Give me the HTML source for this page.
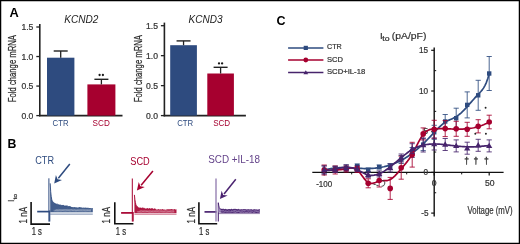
<!DOCTYPE html>
<html><head><meta charset="utf-8"><style>
html,body{margin:0;padding:0;background:#fff;}
body{width:520px;height:244px;overflow:hidden;}
svg{display:block;font-family:"Liberation Sans",sans-serif;will-change:transform;}
</style></head><body>
<svg width="520" height="244" viewBox="0 0 520 244">
<rect x="0" y="0" width="520" height="244" fill="#fff"/>
<text x="9.5" y="17.4" font-size="12.8" fill="#000" font-weight="bold" >A</text>
<line x1="39.8" y1="24.0" x2="39.8" y2="116.35" stroke="#222" stroke-width="1.6" />
<line x1="39.0" y1="115.6" x2="122.5" y2="115.6" stroke="#222" stroke-width="1.6" />
<line x1="36.3" y1="115.6" x2="39.8" y2="115.6" stroke="#222" stroke-width="1.3" />
<text x="33.4" y="118.6" font-size="8.6" fill="#333" text-anchor="end" stroke="#333" stroke-width="0.22" >0.0</text>
<line x1="36.3" y1="86.06666666666666" x2="39.8" y2="86.06666666666666" stroke="#222" stroke-width="1.3" />
<text x="33.4" y="89.06666666666666" font-size="8.6" fill="#333" text-anchor="end" stroke="#333" stroke-width="0.22" >0.5</text>
<line x1="36.3" y1="56.53333333333333" x2="39.8" y2="56.53333333333333" stroke="#222" stroke-width="1.3" />
<text x="33.4" y="59.53333333333333" font-size="8.6" fill="#333" text-anchor="end" stroke="#333" stroke-width="0.22" >1.0</text>
<line x1="36.3" y1="27.0" x2="39.8" y2="27.0" stroke="#222" stroke-width="1.3" />
<text x="33.4" y="30.0" font-size="8.6" fill="#333" text-anchor="end" stroke="#333" stroke-width="0.22" >1.5</text>
<text x="64.2" y="22.9" font-size="10.2" fill="#222" textLength="34.2" lengthAdjust="spacingAndGlyphs" font-style="italic" >KCND2</text>
<rect x="47.0" y="57.7" width="27.400000000000006" height="57.89999999999999" fill="#2e4b7f"/>
<line x1="60.7" y1="51.0" x2="60.7" y2="57.7" stroke="#222" stroke-width="1.3" />
<line x1="53.7" y1="51.0" x2="67.7" y2="51.0" stroke="#222" stroke-width="1.4" />
<text x="52.6" y="126.3" font-size="8.9" fill="#2e4b7f" textLength="16.0" lengthAdjust="spacingAndGlyphs" >CTR</text>
<rect x="87.4" y="84.4" width="28.0" height="31.19999999999999" fill="#a6002f"/>
<line x1="101.4" y1="79.3" x2="101.4" y2="84.4" stroke="#222" stroke-width="1.3" />
<line x1="94.4" y1="79.3" x2="108.4" y2="79.3" stroke="#222" stroke-width="1.4" />
<text x="92.6" y="126.3" font-size="8.9" fill="#a6002f" textLength="17.2" lengthAdjust="spacingAndGlyphs" >SCD</text>
<text transform="translate(16.2,102.2) rotate(-90)" font-size="10.0" fill="#2a2a2a" stroke="#2a2a2a" stroke-width="0.22" textLength="67.2" lengthAdjust="spacingAndGlyphs">Fold change mRNA</text>
<line x1="164.4" y1="22.6" x2="164.4" y2="116.35" stroke="#222" stroke-width="1.6" />
<line x1="163.6" y1="115.6" x2="245.9" y2="115.6" stroke="#222" stroke-width="1.6" />
<line x1="160.9" y1="115.6" x2="164.4" y2="115.6" stroke="#222" stroke-width="1.3" />
<text x="158.0" y="118.6" font-size="8.6" fill="#333" text-anchor="end" stroke="#333" stroke-width="0.22" >0.0</text>
<line x1="160.9" y1="85.63333333333333" x2="164.4" y2="85.63333333333333" stroke="#222" stroke-width="1.3" />
<text x="158.0" y="88.63333333333333" font-size="8.6" fill="#333" text-anchor="end" stroke="#333" stroke-width="0.22" >0.5</text>
<line x1="160.9" y1="55.666666666666664" x2="164.4" y2="55.666666666666664" stroke="#222" stroke-width="1.3" />
<text x="158.0" y="58.666666666666664" font-size="8.6" fill="#333" text-anchor="end" stroke="#333" stroke-width="0.22" >1.0</text>
<line x1="160.9" y1="25.700000000000003" x2="164.4" y2="25.700000000000003" stroke="#222" stroke-width="1.3" />
<text x="158.0" y="28.700000000000003" font-size="8.6" fill="#333" text-anchor="end" stroke="#333" stroke-width="0.22" >1.5</text>
<text x="188.5" y="22.9" font-size="10.2" fill="#222" textLength="34.0" lengthAdjust="spacingAndGlyphs" font-style="italic" >KCND3</text>
<rect x="170.2" y="45.2" width="26.700000000000017" height="70.39999999999999" fill="#2e4b7f"/>
<line x1="183.55" y1="40.9" x2="183.55" y2="45.2" stroke="#222" stroke-width="1.3" />
<line x1="176.55" y1="40.9" x2="190.55" y2="40.9" stroke="#222" stroke-width="1.4" />
<text x="177.2" y="126.3" font-size="8.9" fill="#2e4b7f" textLength="16.0" lengthAdjust="spacingAndGlyphs" >CTR</text>
<rect x="207.3" y="73.5" width="26.599999999999994" height="42.099999999999994" fill="#a6002f"/>
<line x1="220.60000000000002" y1="67.3" x2="220.60000000000002" y2="73.5" stroke="#222" stroke-width="1.3" />
<line x1="213.60000000000002" y1="67.3" x2="227.60000000000002" y2="67.3" stroke="#222" stroke-width="1.4" />
<text x="213.2" y="126.3" font-size="8.9" fill="#a6002f" textLength="17.0" lengthAdjust="spacingAndGlyphs" >SCD</text>
<text transform="translate(142.0,102.2) rotate(-90)" font-size="10.0" fill="#2a2a2a" stroke="#2a2a2a" stroke-width="0.22" textLength="67.2" lengthAdjust="spacingAndGlyphs">Fold change mRNA</text>
<circle cx="99.6" cy="75.0" r="1.15" fill="#1a1a1a"/>
<circle cx="102.9" cy="75.0" r="1.15" fill="#1a1a1a"/>
<circle cx="219.0" cy="63.4" r="1.15" fill="#1a1a1a"/>
<circle cx="222.1" cy="63.4" r="1.15" fill="#1a1a1a"/>
<text x="7.6" y="147.9" font-size="12.3" fill="#000" font-weight="bold" >B</text>
<g transform="translate(14.3,202.0) rotate(-90)" fill="#333" stroke="#333" stroke-width="0.2"><text x="0" y="0" font-size="8.4">I</text><text x="2.4" y="2.9" font-size="6.0" textLength="5.8" lengthAdjust="spacingAndGlyphs">to</text></g>
<text x="35.2" y="163.8" font-size="10.0" fill="#2e4b7f" textLength="18.8" lengthAdjust="spacingAndGlyphs" >CTR</text>
<line x1="69.8" y1="164.0" x2="58.33590712516797" y2="178.25662831870136" stroke="#2e4b7f" stroke-width="1.5" />
<polygon points="54.2,183.4 55.92,175.03 57.58,179.19 62.00,179.92" fill="#2e4b7f"/>
<line x1="37.2" y1="211.6" x2="49.4" y2="211.6" stroke="#2e4b7f" stroke-width="1.7" />
<line x1="48.9" y1="178.3" x2="48.9" y2="221.6" stroke="#2e4b7f" stroke-width="1.0" />
<line x1="49.699999999999996" y1="210.6" x2="49.699999999999996" y2="221.6" stroke="#2e4b7f" stroke-width="1.2" />
<path d="M50.20,183.32 L50.70,191.78 L51.20,196.39 L51.70,199.30 L52.20,200.94 L52.70,201.54 L53.20,202.13 L53.70,203.14 L54.20,203.04 L54.70,203.27 L55.20,204.00 L55.70,203.81 L56.20,204.23 L56.70,204.12 L57.20,204.38 L57.70,204.17 L58.20,204.64 L59.20,205.04 L60.20,205.03 L61.20,205.39 L62.20,205.54 L63.20,205.30 L64.20,205.96 L65.20,206.01 L66.20,205.96 L67.20,205.91 L68.20,206.63 L69.20,206.48 L70.20,206.77 L71.20,206.99 L72.20,206.97 L73.20,207.21 L74.20,206.93 L75.20,207.30 L76.20,207.13 L77.20,207.55 L78.20,207.58 L79.20,207.09 L80.20,207.18 L81.20,207.29 L82.20,207.87 L83.20,207.55 L84.20,207.73 L85.20,207.54 L86.20,207.72 L87.20,207.68 L88.20,207.69 L89.20,207.88 L90.20,207.91 L91.20,208.17 L92.20,208.04 L92.80,207.93 L92.80,212.20 L50.20,212.20Z" fill="#2e4b7f" fill-opacity="0.9"/>
<path d="M50.20,183.32 L50.70,191.78 L51.20,196.39 L51.70,199.30 L52.20,200.94 L52.70,201.54 L53.20,202.13 L53.70,203.14 L54.20,203.04 L54.70,203.27 L55.20,204.00 L55.70,203.81 L56.20,204.23 L56.70,204.12 L57.20,204.38 L57.70,204.17 L58.20,204.64 L59.20,205.04 L60.20,205.03 L61.20,205.39 L62.20,205.54 L63.20,205.30 L64.20,205.96 L65.20,206.01 L66.20,205.96 L67.20,205.91 L68.20,206.63 L69.20,206.48 L70.20,206.77 L71.20,206.99" fill="none" stroke="#2e4b7f" stroke-width="0.9"/>
<path d="M55.6,209.76 L57.1,209.60 L58.6,209.35 L60.1,209.70 L61.6,209.75 L63.1,209.72 L64.6,209.55 L66.1,209.62 L67.6,209.37 L69.1,209.68 L70.6,209.55 L72.1,209.41 L73.6,209.30 L75.1,209.69 L76.6,209.76 L78.1,209.31 L79.6,209.67 L81.1,209.47 L82.6,209.34 L84.1,209.41 L85.6,209.65 L87.1,209.70 L88.6,209.29 L90.1,209.57 L91.6,209.29" fill="none" stroke="#fff" stroke-opacity="0.42" stroke-width="0.5"/>
<path d="M53.5,210.25 L55.0,210.30 L56.5,210.06 L58.0,210.31 L59.5,209.96 L61.0,209.85 L62.5,210.11 L64.0,209.83 L65.5,209.91 L67.0,210.01 L68.5,210.12 L70.0,209.89 L71.5,209.83 L73.0,210.24 L74.5,209.97 L76.0,210.29 L77.5,210.26 L79.0,210.00 L80.5,210.04 L82.0,210.07 L83.5,210.13 L85.0,210.11 L86.5,210.09 L88.0,210.12 L89.5,210.28 L91.0,210.06" fill="none" stroke="#fff" stroke-opacity="0.42" stroke-width="0.5"/>
<path d="M55.1,210.42 L56.6,210.46 L58.1,210.79 L59.6,210.57 L61.1,210.58 L62.6,210.31 L64.1,210.51 L65.6,210.60 L67.1,210.32 L68.6,210.61 L70.1,210.62 L71.6,210.34 L73.1,210.62 L74.6,210.54 L76.1,210.65 L77.6,210.48 L79.1,210.66 L80.6,210.68 L82.1,210.32 L83.6,210.34 L85.1,210.64 L86.6,210.79 L88.1,210.43 L89.6,210.53 L91.1,210.60" fill="none" stroke="#fff" stroke-opacity="0.42" stroke-width="0.5"/>
<path d="M53.7,211.06 L55.2,211.09 L56.7,211.21 L58.2,211.06 L59.7,211.10 L61.2,211.29 L62.7,210.92 L64.2,211.19 L65.7,211.28 L67.2,211.06 L68.7,211.02 L70.2,211.31 L71.7,211.03 L73.2,211.00 L74.7,211.13 L76.2,211.26 L77.7,210.96 L79.2,211.07 L80.7,211.07 L82.2,211.32 L83.7,211.13 L85.2,211.34 L86.7,210.99 L88.2,211.08 L89.7,211.23 L91.2,211.35" fill="none" stroke="#fff" stroke-opacity="0.42" stroke-width="0.5"/>
<line x1="50.2" y1="214.30" x2="92.8" y2="214.30" stroke="#2e4b7f" stroke-opacity="0.55" stroke-width="0.9"/>
<line x1="50.2" y1="213.25" x2="92.8" y2="213.25" stroke="#2e4b7f" stroke-opacity="0.25" stroke-width="0.9"/>
<path d="M31.1,201.9 L31.1,224.1 L50.0,224.1" fill="none" stroke="#111" stroke-width="1.6"/>
<text transform="translate(26.6,223.5) rotate(-90)" font-size="10.6" fill="#2a2a2a" stroke="#2a2a2a" stroke-width="0.22" textLength="16.5" lengthAdjust="spacingAndGlyphs">1 nA</text>
<text x="31.7" y="235.2" font-size="10.0" fill="#2a2a2a" textLength="10.2" lengthAdjust="spacingAndGlyphs" stroke="#2a2a2a" stroke-width="0.22" >1 s</text>
<text x="130.3" y="164.8" font-size="10.0" fill="#a6002f" textLength="19.5" lengthAdjust="spacingAndGlyphs" >SCD</text>
<line x1="152.9" y1="171.1" x2="141.11225575407823" y2="185.31896649664313" stroke="#a6002f" stroke-width="1.5" />
<polygon points="136.9,190.4 138.75,182.06 140.35,186.24 144.75,187.04" fill="#a6002f"/>
<line x1="121.1" y1="212.9" x2="132.8" y2="212.9" stroke="#a6002f" stroke-width="1.7" />
<line x1="132.3" y1="178.5" x2="132.3" y2="221.5" stroke="#a6002f" stroke-width="1.0" />
<line x1="133.10000000000002" y1="211.9" x2="133.10000000000002" y2="221.5" stroke="#a6002f" stroke-width="1.2" />
<path d="M134.40,194.89 L134.90,199.62 L135.40,202.65 L135.90,204.67 L136.40,205.78 L136.90,206.72 L137.40,206.64 L137.90,207.31 L138.40,207.90 L138.90,207.88 L139.40,208.20 L139.90,207.75 L140.40,208.09 L140.90,208.01 L141.40,208.28 L141.90,208.36 L142.40,208.02 L143.40,208.26 L144.40,208.39 L145.40,208.91 L146.40,208.88 L147.40,208.52 L148.40,209.02 L149.40,208.62 L150.40,209.00 L151.40,208.71 L152.40,208.66 L153.40,209.31 L154.40,208.88 L155.40,208.92 L156.40,209.49 L157.40,209.44 L158.40,209.05 L159.40,209.55 L160.40,209.28 L161.40,209.39 L162.40,209.08 L163.40,209.61 L164.40,209.45 L165.40,209.66 L166.40,209.62 L167.40,209.22 L168.40,209.27 L169.40,209.15 L170.40,209.14 L171.40,209.09 L172.40,209.27 L173.40,209.49 L174.40,209.07 L175.40,209.55 L176.40,209.32 L176.50,209.43 L176.50,213.00 L134.40,213.00Z" fill="#a6002f" fill-opacity="0.9"/>
<path d="M134.40,194.89 L134.90,199.62 L135.40,202.65 L135.90,204.67 L136.40,205.78 L136.90,206.72 L137.40,206.64 L137.90,207.31 L138.40,207.90 L138.90,207.88 L139.40,208.20 L139.90,207.75 L140.40,208.09 L140.90,208.01 L141.40,208.28 L141.90,208.36 L142.40,208.02 L143.40,208.26 L144.40,208.39 L145.40,208.91 L146.40,208.88 L147.40,208.52 L148.40,209.02 L149.40,208.62 L150.40,209.00 L151.40,208.71 L152.40,208.66 L153.40,209.31 L154.40,208.88 L155.40,208.92" fill="none" stroke="#a6002f" stroke-width="0.9"/>
<path d="M139.7,210.56 L141.2,210.47 L142.7,210.56 L144.2,210.67 L145.7,210.34 L147.2,210.80 L148.7,210.33 L150.2,210.69 L151.7,210.74 L153.2,210.32 L154.7,210.71 L156.2,210.50 L157.7,210.61 L159.2,210.32 L160.7,210.34 L162.2,210.41 L163.7,210.79 L165.2,210.41 L166.7,210.69 L168.2,210.78 L169.7,210.79 L171.2,210.49 L172.7,210.49 L174.2,210.58" fill="none" stroke="#fff" stroke-opacity="0.42" stroke-width="0.5"/>
<path d="M136.8,211.46 L138.3,211.49 L139.8,211.52 L141.3,211.11 L142.8,211.56 L144.3,211.13 L145.8,211.26 L147.3,211.39 L148.8,211.55 L150.3,211.26 L151.8,211.55 L153.3,211.36 L154.8,211.24 L156.3,211.25 L157.8,211.18 L159.3,211.13 L160.8,211.16 L162.3,211.43 L163.8,211.59 L165.3,211.17 L166.8,211.11 L168.3,211.58 L169.8,211.35 L171.3,211.29 L172.8,211.21 L174.3,211.38" fill="none" stroke="#fff" stroke-opacity="0.42" stroke-width="0.5"/>
<path d="M138.2,211.82 L139.7,211.64 L141.2,212.07 L142.7,211.62 L144.2,211.86 L145.7,212.03 L147.2,211.67 L148.7,211.97 L150.2,212.08 L151.7,211.92 L153.2,212.00 L154.7,211.66 L156.2,211.83 L157.7,211.68 L159.2,212.03 L160.7,211.76 L162.2,211.84 L163.7,212.11 L165.2,212.03 L166.7,212.10 L168.2,211.84 L169.7,211.85 L171.2,211.97 L172.7,211.85 L174.2,211.75" fill="none" stroke="#fff" stroke-opacity="0.42" stroke-width="0.5"/>
<path d="M137.0,212.04 L138.5,212.34 L140.0,212.33 L141.5,212.16 L143.0,212.10 L144.5,212.02 L146.0,211.89 L147.5,211.98 L149.0,212.24 L150.5,212.28 L152.0,212.03 L153.5,212.24 L155.0,212.23 L156.5,212.19 L158.0,212.18 L159.5,212.23 L161.0,212.03 L162.5,212.20 L164.0,211.99 L165.5,212.09 L167.0,212.23 L168.5,212.19 L170.0,211.99 L171.5,212.32 L173.0,212.17 L174.5,212.14" fill="none" stroke="#fff" stroke-opacity="0.42" stroke-width="0.5"/>
<line x1="134.4" y1="214.30" x2="176.5" y2="214.30" stroke="#a6002f" stroke-opacity="0.55" stroke-width="0.9"/>
<line x1="134.4" y1="213.65" x2="176.5" y2="213.65" stroke="#a6002f" stroke-opacity="0.25" stroke-width="0.9"/>
<path d="M114.8,202.3 L114.8,223.8 L133.4,223.8" fill="none" stroke="#111" stroke-width="1.6"/>
<text transform="translate(109.8,223.5) rotate(-90)" font-size="10.6" fill="#2a2a2a" stroke="#2a2a2a" stroke-width="0.22" textLength="16.5" lengthAdjust="spacingAndGlyphs">1 nA</text>
<text x="115.8" y="235.2" font-size="10.0" fill="#2a2a2a" textLength="10.2" lengthAdjust="spacingAndGlyphs" stroke="#2a2a2a" stroke-width="0.22" >1 s</text>
<text x="208.2" y="162.9" font-size="10.0" fill="#64438a" textLength="51.8" lengthAdjust="spacingAndGlyphs" >SCD +IL-18</text>
<line x1="235.8" y1="179.3" x2="224.0324890147565" y2="193.9538816042655" stroke="#4a2370" stroke-width="1.5" />
<polygon points="219.9,199.1 221.62,190.73 223.28,194.89 227.70,195.62" fill="#4a2370"/>
<line x1="204.5" y1="211.9" x2="216.5" y2="211.9" stroke="#4a2370" stroke-width="1.7" />
<line x1="216.0" y1="178.5" x2="216.0" y2="221.5" stroke="#8f78ae" stroke-width="1.3" />
<line x1="218.3" y1="202.79999999999998" x2="218.3" y2="221.5" stroke="#4a2370" stroke-width="1.1" />
<path d="M218.30,202.68 L218.80,205.72 L219.30,207.76 L219.80,208.26 L220.30,209.07 L220.80,209.21 L221.30,209.13 L221.80,209.52 L222.30,209.23 L222.80,209.53 L223.30,209.29 L223.80,209.31 L224.30,209.54 L224.80,209.83 L225.30,209.34 L225.80,209.41 L226.30,209.69 L227.30,209.91 L228.30,209.65 L229.30,209.53 L230.30,209.93 L231.30,209.28 L232.30,209.85 L233.30,209.45 L234.30,209.35 L235.30,209.33 L236.30,209.47 L237.30,209.82 L238.30,209.38 L239.30,209.66 L240.30,209.70 L241.30,209.51 L242.30,209.63 L243.30,209.29 L244.30,209.29 L245.30,209.39 L246.30,209.73 L247.30,209.55 L248.30,209.47 L249.30,209.66 L250.30,209.57 L251.30,209.46 L252.30,209.81 L253.30,209.74 L254.30,209.42 L255.30,209.65 L256.30,209.62 L257.30,209.86 L258.30,209.76 L259.30,209.45 L259.90,209.60 L259.90,212.60 L218.30,212.60Z" fill="#9a84b6" fill-opacity="1"/>
<path d="M220.80,209.61 L221.30,209.53 L221.80,209.92 L222.30,209.63 L222.80,209.93 L223.30,209.69 L223.80,209.71 L224.30,209.94 L224.80,210.23 L225.30,209.74 L225.80,209.81 L226.30,210.09 L227.30,210.31 L228.30,210.05 L229.30,209.93 L230.30,210.33 L231.30,209.68 L232.30,210.25 L233.30,209.85 L234.30,209.75 L235.30,209.73 L236.30,209.87 L237.30,210.22 L238.30,209.78 L239.30,210.06 L240.30,210.10 L241.30,209.91 L242.30,210.03 L243.30,209.69 L244.30,209.69 L245.30,209.79 L246.30,210.13 L247.30,209.95 L248.30,209.87 L249.30,210.06 L250.30,209.97 L251.30,209.86 L252.30,210.21 L253.30,210.14 L254.30,209.82 L255.30,210.05 L256.30,210.02 L257.30,210.26 L258.30,210.16 L259.30,209.85 L259.90,210.00" fill="none" stroke="#4a2370" stroke-width="1.1"/>
<path d="M220.80,212.39 L221.30,211.87 L221.80,212.05 L222.30,212.25 L222.80,211.89 L223.30,212.09 L223.80,211.82 L224.30,212.20 L224.80,212.26 L225.30,212.14 L225.80,212.33 L226.30,211.99 L227.30,212.22 L228.30,212.16 L229.30,212.15 L230.30,212.07 L231.30,212.30 L232.30,212.37 L233.30,212.08 L234.30,212.20 L235.30,211.84 L236.30,212.22 L237.30,212.19 L238.30,212.40 L239.30,212.29 L240.30,211.97 L241.30,212.03 L242.30,212.20 L243.30,211.81 L244.30,212.08 L245.30,211.90 L246.30,211.87 L247.30,211.84 L248.30,212.26 L249.30,211.88 L250.30,211.95 L251.30,212.03 L252.30,212.32 L253.30,211.85 L254.30,212.07 L255.30,212.13 L256.30,212.33 L257.30,212.29 L258.30,212.32 L259.30,211.97 L259.90,212.05" fill="none" stroke="#4a2370" stroke-width="1.1"/>
<path d="M218.30,202.68 L218.80,205.72 L219.30,207.76 L219.80,208.26 L220.30,209.07 L220.80,209.21 L221.30,209.13 L221.80,209.52 L222.30,209.23 L222.80,209.53 L223.30,209.29 L223.80,209.31 L224.30,209.54 L224.80,209.83 L225.30,209.34 L225.80,209.41 L226.30,209.69 L227.30,209.91 L228.30,209.65 L229.30,209.53 L230.30,209.93 L231.30,209.28 L232.30,209.85 L233.30,209.45 L234.30,209.35 L235.30,209.33 L236.30,209.47 L237.30,209.82 L238.30,209.38 L239.30,209.66" fill="none" stroke="#4a2370" stroke-width="0.9"/>
<line x1="218.3" y1="213.60" x2="259.9" y2="213.60" stroke="#4a2370" stroke-opacity="0.55" stroke-width="0.9"/>
<line x1="218.3" y1="213.10" x2="259.9" y2="213.10" stroke="#4a2370" stroke-opacity="0.25" stroke-width="0.9"/>
<path d="M198.9,202.3 L198.9,223.8 L217.2,223.8" fill="none" stroke="#111" stroke-width="1.6"/>
<text transform="translate(194.6,223.5) rotate(-90)" font-size="10.6" fill="#2a2a2a" stroke="#2a2a2a" stroke-width="0.22" textLength="16.5" lengthAdjust="spacingAndGlyphs">1 nA</text>
<text x="199.1" y="235.2" font-size="10.0" fill="#2a2a2a" textLength="10.2" lengthAdjust="spacingAndGlyphs" stroke="#2a2a2a" stroke-width="0.22" >1 s</text>
<text x="276.4" y="24.9" font-size="12.5" fill="#000" font-weight="bold" >C</text>
<line x1="288.1" y1="47.9" x2="323.4" y2="47.9" stroke="#2e4b7f" stroke-width="1.5" />
<rect x="303.7" y="45.8" width="4.2" height="4.2" fill="#2e4b7f"/>
<text x="327.0" y="49.4" font-size="7.9" fill="#333" textLength="14.8" lengthAdjust="spacingAndGlyphs" stroke="#333" stroke-width="0.22" >CTR</text>
<line x1="288.1" y1="60.0" x2="323.4" y2="60.0" stroke="#a6002f" stroke-width="1.5" />
<circle cx="305.8" cy="60.0" r="2.4" fill="#a6002f"/>
<text x="327.0" y="61.5" font-size="7.9" fill="#333" textLength="16.0" lengthAdjust="spacingAndGlyphs" stroke="#333" stroke-width="0.22" >SCD</text>
<line x1="288.1" y1="72.6" x2="323.4" y2="72.6" stroke="#47246c" stroke-width="1.5" />
<polygon points="305.8,70.3 308.2,74.19999999999999 303.4,74.19999999999999" fill="#47246c"/>
<text x="327.0" y="74.1" font-size="7.9" fill="#333" textLength="38.2" lengthAdjust="spacingAndGlyphs" stroke="#333" stroke-width="0.22" >SCD+IL-18</text>
<text x="380.0" y="39.3" font-size="9.8" fill="#333" stroke="#333" stroke-width="0.22" >I</text>
<text x="382.3" y="41.2" font-size="6.6" fill="#333" textLength="7.2" lengthAdjust="spacingAndGlyphs" stroke="#333" stroke-width="0.22" >to</text>
<text x="391.8" y="39.3" font-size="9.8" fill="#333" textLength="34.6" lengthAdjust="spacingAndGlyphs" stroke="#333" stroke-width="0.22" >(pA/pF)</text>
<line x1="434.2" y1="47.4" x2="434.2" y2="216.5" stroke="#111" stroke-width="1.4" />
<line x1="312.3" y1="172.4" x2="503.6" y2="172.4" stroke="#111" stroke-width="1.4" />
<line x1="431.2" y1="50.3" x2="434.2" y2="50.3" stroke="#111" stroke-width="1.2" />
<line x1="431.2" y1="91.0" x2="434.2" y2="91.0" stroke="#111" stroke-width="1.2" />
<line x1="431.2" y1="131.7" x2="434.2" y2="131.7" stroke="#111" stroke-width="1.2" />
<line x1="431.2" y1="172.4" x2="434.2" y2="172.4" stroke="#111" stroke-width="1.2" />
<line x1="431.2" y1="213.10000000000002" x2="434.2" y2="213.10000000000002" stroke="#111" stroke-width="1.2" />
<line x1="434.2" y1="70.65" x2="436.2" y2="70.65" stroke="#111" stroke-width="1.0" />
<line x1="434.2" y1="111.35" x2="436.2" y2="111.35" stroke="#111" stroke-width="1.0" />
<line x1="434.2" y1="152.05" x2="436.2" y2="152.05" stroke="#111" stroke-width="1.0" />
<line x1="434.2" y1="192.75" x2="436.2" y2="192.75" stroke="#111" stroke-width="1.0" />
<line x1="324.2" y1="172.4" x2="324.2" y2="175.4" stroke="#111" stroke-width="1.2" />
<line x1="379.2" y1="172.4" x2="379.2" y2="175.4" stroke="#111" stroke-width="1.2" />
<line x1="434.2" y1="172.4" x2="434.2" y2="175.4" stroke="#111" stroke-width="1.2" />
<line x1="489.2" y1="172.4" x2="489.2" y2="175.4" stroke="#111" stroke-width="1.2" />
<line x1="351.7" y1="172.4" x2="351.7" y2="174.4" stroke="#111" stroke-width="1.0" />
<line x1="406.7" y1="172.4" x2="406.7" y2="174.4" stroke="#111" stroke-width="1.0" />
<line x1="461.7" y1="172.4" x2="461.7" y2="174.4" stroke="#111" stroke-width="1.0" />
<text x="428.0" y="52.9" font-size="8.2" fill="#333" text-anchor="end" stroke="#333" stroke-width="0.22" >15</text>
<text x="428.0" y="93.6" font-size="8.2" fill="#333" text-anchor="end" stroke="#333" stroke-width="0.22" >10</text>
<text x="428.0" y="134.3" font-size="8.2" fill="#333" text-anchor="end" stroke="#333" stroke-width="0.22" >5</text>
<text x="428.0" y="175.0" font-size="8.2" fill="#333" text-anchor="end" stroke="#333" stroke-width="0.22" >0</text>
<text x="428.6" y="216.2" font-size="8.2" fill="#333" text-anchor="end" stroke="#333" stroke-width="0.22" >-5</text>
<text x="324.2" y="186.5" font-size="8.8" fill="#333" text-anchor="middle" textLength="16.0" lengthAdjust="spacingAndGlyphs" stroke="#333" stroke-width="0.22" >-100</text>
<text x="434.2" y="185.8" font-size="8.6" fill="#333" text-anchor="middle" stroke="#333" stroke-width="0.22" >0</text>
<text x="489.8" y="186.2" font-size="8.6" fill="#333" text-anchor="middle" stroke="#333" stroke-width="0.22" >50</text>
<text x="467.6" y="214.4" font-size="10.4" fill="#333" textLength="45.0" lengthAdjust="spacingAndGlyphs" stroke="#333" stroke-width="0.22" >Voltage (mV)</text>
<path d="M324.20,165.80 L324.20,173.80 M321.60,165.80 L326.80,165.80 M321.60,173.80 L326.80,173.80" stroke="#2e4b7f" stroke-width="1.0" fill="none" stroke-opacity="0.85"/>
<path d="M335.20,166.00 L335.20,172.00 M332.60,166.00 L337.80,166.00 M332.60,172.00 L337.80,172.00" stroke="#2e4b7f" stroke-width="1.0" fill="none" stroke-opacity="0.85"/>
<path d="M346.20,165.00 L346.20,171.00 M343.60,165.00 L348.80,165.00 M343.60,171.00 L348.80,171.00" stroke="#2e4b7f" stroke-width="1.0" fill="none" stroke-opacity="0.85"/>
<path d="M357.20,164.00 L357.20,168.00 M354.60,164.00 L359.80,164.00 M354.60,168.00 L359.80,168.00" stroke="#2e4b7f" stroke-width="1.0" fill="none" stroke-opacity="0.85"/>
<path d="M368.20,168.00 L368.20,172.00 M365.60,168.00 L370.80,168.00 M365.60,172.00 L370.80,172.00" stroke="#2e4b7f" stroke-width="1.0" fill="none" stroke-opacity="0.85"/>
<path d="M379.20,165.00 L379.20,169.00 M376.60,165.00 L381.80,165.00 M376.60,169.00 L381.80,169.00" stroke="#2e4b7f" stroke-width="1.0" fill="none" stroke-opacity="0.85"/>
<path d="M390.20,163.50 L390.20,169.50 M387.60,163.50 L392.80,163.50 M387.60,169.50 L392.80,169.50" stroke="#2e4b7f" stroke-width="1.0" fill="none" stroke-opacity="0.85"/>
<path d="M401.20,155.50 L401.20,163.50 M398.60,155.50 L403.80,155.50 M398.60,163.50 L403.80,163.50" stroke="#2e4b7f" stroke-width="1.0" fill="none" stroke-opacity="0.85"/>
<path d="M412.20,147.50 L412.20,157.50 M409.60,147.50 L414.80,147.50 M409.60,157.50 L414.80,157.50" stroke="#2e4b7f" stroke-width="1.0" fill="none" stroke-opacity="0.85"/>
<path d="M423.20,138.60 L423.20,150.60 M420.60,138.60 L425.80,138.60 M420.60,150.60 L425.80,150.60" stroke="#2e4b7f" stroke-width="1.0" fill="none" stroke-opacity="0.85"/>
<path d="M434.20,125.30 L434.20,139.30 M431.60,125.30 L436.80,125.30 M431.60,139.30 L436.80,139.30" stroke="#2e4b7f" stroke-width="1.0" fill="none" stroke-opacity="0.85"/>
<path d="M445.20,114.50 L445.20,128.50 M442.60,114.50 L447.80,114.50 M442.60,128.50 L447.80,128.50" stroke="#2e4b7f" stroke-width="1.0" fill="none" stroke-opacity="0.85"/>
<path d="M456.20,108.20 L456.20,128.20 M453.60,108.20 L458.80,108.20 M453.60,128.20 L458.80,128.20" stroke="#2e4b7f" stroke-width="1.0" fill="none" stroke-opacity="0.85"/>
<path d="M467.20,91.90 L467.20,117.90 M464.60,91.90 L469.80,91.90 M464.60,117.90 L469.80,117.90" stroke="#2e4b7f" stroke-width="1.0" fill="none" stroke-opacity="0.85"/>
<path d="M478.20,80.30 L478.20,110.30 M475.60,80.30 L480.80,80.30 M475.60,110.30 L480.80,110.30" stroke="#2e4b7f" stroke-width="1.0" fill="none" stroke-opacity="0.85"/>
<path d="M489.20,56.50 L489.20,90.50 M486.60,56.50 L491.80,56.50 M486.60,90.50 L491.80,90.50" stroke="#2e4b7f" stroke-width="1.0" fill="none" stroke-opacity="0.85"/>
<path d="M324.20,170.23 L325.59,169.80 L326.97,169.42 L328.36,169.09 L329.75,168.79 L331.13,168.54 L332.52,168.32 L333.91,168.14 L335.29,167.99 L336.68,167.87 L338.07,167.78 L339.45,167.71 L340.84,167.67 L342.23,167.65 L343.61,167.65 L345.00,167.67 L346.38,167.70 L347.77,167.75 L349.16,167.80 L350.54,167.87 L351.93,167.94 L353.32,168.02 L354.70,168.10 L356.09,168.18 L357.48,168.25 L358.86,168.33 L360.25,168.39 L361.64,168.45 L363.02,168.50 L364.41,168.53 L365.80,168.55 L367.18,168.55 L368.57,168.53 L369.96,168.49 L371.34,168.42 L372.73,168.34 L374.12,168.23 L375.50,168.10 L376.89,167.94 L378.28,167.75 L379.66,167.54 L381.05,167.31 L382.44,167.04 L383.82,166.75 L385.21,166.42 L386.59,166.07 L387.98,165.69 L389.37,165.27 L390.75,164.82 L392.14,164.34 L393.53,163.83 L394.91,163.28 L396.30,162.70 L397.69,162.08 L399.07,161.42 L400.46,160.73 L401.85,160.00 L403.23,159.23 L404.62,158.42 L406.01,157.57 L407.39,156.68 L408.78,155.75 L410.17,154.78 L411.55,153.76 L412.94,152.70 L414.33,151.60 L415.71,150.46 L417.10,149.28 L418.49,148.06 L419.87,146.81 L421.26,145.53 L422.65,144.22 L424.03,142.88 L425.42,141.52 L426.81,140.13 L428.19,138.73 L429.58,137.31 L430.96,135.87 L432.35,134.42 L433.74,132.96 L435.12,131.49 L436.51,130.02 L437.90,128.58 L439.28,127.19 L440.67,125.86 L442.06,124.61 L443.44,123.47 L444.83,122.45 L446.22,121.57 L447.60,120.81 L448.99,120.14 L450.38,119.52 L451.76,118.91 L453.15,118.29 L454.54,117.60 L455.92,116.82 L457.31,115.92 L458.70,114.90 L460.08,113.76 L461.47,112.52 L462.86,111.19 L464.24,109.79 L465.63,108.32 L467.02,106.81 L468.40,105.26 L469.79,103.68 L471.17,102.09 L472.56,100.51 L473.95,98.94 L475.33,97.39 L476.72,95.88 L478.11,94.43 L479.49,93.01 L480.88,91.54 L482.27,89.87 L483.65,87.86 L485.04,85.37 L486.43,82.28 L487.81,78.44 L489.20,73.72" stroke="#2e4b7f" stroke-width="1.7" fill="none" stroke-linejoin="round"/>
<rect x="322.0" y="167.6" width="4.4" height="4.4" fill="#2e4b7f"/>
<rect x="333.0" y="166.8" width="4.4" height="4.4" fill="#2e4b7f"/>
<rect x="344.0" y="165.8" width="4.4" height="4.4" fill="#2e4b7f"/>
<rect x="355.0" y="163.8" width="4.4" height="4.4" fill="#2e4b7f"/>
<rect x="366.0" y="167.8" width="4.4" height="4.4" fill="#2e4b7f"/>
<rect x="377.0" y="164.8" width="4.4" height="4.4" fill="#2e4b7f"/>
<rect x="388.0" y="164.3" width="4.4" height="4.4" fill="#2e4b7f"/>
<rect x="399.0" y="157.3" width="4.4" height="4.4" fill="#2e4b7f"/>
<rect x="410.0" y="150.3" width="4.4" height="4.4" fill="#2e4b7f"/>
<rect x="421.0" y="142.4" width="4.4" height="4.4" fill="#2e4b7f"/>
<rect x="432.0" y="130.1" width="4.4" height="4.4" fill="#2e4b7f"/>
<rect x="443.0" y="119.3" width="4.4" height="4.4" fill="#2e4b7f"/>
<rect x="454.0" y="116.0" width="4.4" height="4.4" fill="#2e4b7f"/>
<rect x="465.0" y="102.7" width="4.4" height="4.4" fill="#2e4b7f"/>
<rect x="476.0" y="93.1" width="4.4" height="4.4" fill="#2e4b7f"/>
<rect x="487.0" y="71.3" width="4.4" height="4.4" fill="#2e4b7f"/>
<path d="M324.20,165.00 L324.20,175.00 M321.60,165.00 L326.80,165.00 M321.60,175.00 L326.80,175.00" stroke="#a6002f" stroke-width="1.0" fill="none" stroke-opacity="0.85"/>
<path d="M335.20,166.00 L335.20,174.00 M332.60,166.00 L337.80,166.00 M332.60,174.00 L337.80,174.00" stroke="#a6002f" stroke-width="1.0" fill="none" stroke-opacity="0.85"/>
<path d="M346.20,166.00 L346.20,172.00 M343.60,166.00 L348.80,166.00 M343.60,172.00 L348.80,172.00" stroke="#a6002f" stroke-width="1.0" fill="none" stroke-opacity="0.85"/>
<path d="M357.20,166.40 L357.20,172.40 M354.60,166.40 L359.80,166.40 M354.60,172.40 L359.80,172.40" stroke="#a6002f" stroke-width="1.0" fill="none" stroke-opacity="0.85"/>
<path d="M368.20,178.80 L368.20,187.80 M365.60,178.80 L370.80,178.80 M365.60,187.80 L370.80,187.80" stroke="#a6002f" stroke-width="1.0" fill="none" stroke-opacity="0.85"/>
<path d="M379.20,174.00 L379.20,187.00 M376.60,174.00 L381.80,174.00 M376.60,187.00 L381.80,187.00" stroke="#a6002f" stroke-width="1.0" fill="none" stroke-opacity="0.85"/>
<path d="M390.20,177.40 L390.20,199.40 M387.60,177.40 L392.80,177.40 M387.60,199.40 L392.80,199.40" stroke="#a6002f" stroke-width="1.0" fill="none" stroke-opacity="0.85"/>
<path d="M401.20,156.20 L401.20,179.20 M398.60,156.20 L403.80,156.20 M398.60,179.20 L403.80,179.20" stroke="#a6002f" stroke-width="1.0" fill="none" stroke-opacity="0.85"/>
<path d="M412.20,142.30 L412.20,167.10 M409.60,142.30 L414.80,142.30 M409.60,167.10 L414.80,167.10" stroke="#a6002f" stroke-width="1.0" fill="none" stroke-opacity="0.85"/>
<path d="M423.20,127.90 L423.20,139.90 M420.60,127.90 L425.80,127.90 M420.60,139.90 L425.80,139.90" stroke="#a6002f" stroke-width="1.0" fill="none" stroke-opacity="0.85"/>
<path d="M434.20,120.30 L434.20,138.30 M431.60,120.30 L436.80,120.30 M431.60,138.30 L436.80,138.30" stroke="#a6002f" stroke-width="1.0" fill="none" stroke-opacity="0.85"/>
<path d="M445.20,120.60 L445.20,136.60 M442.60,120.60 L447.80,120.60 M442.60,136.60 L447.80,136.60" stroke="#a6002f" stroke-width="1.0" fill="none" stroke-opacity="0.85"/>
<path d="M456.20,121.30 L456.20,136.30 M453.60,121.30 L458.80,121.30 M453.60,136.30 L458.80,136.30" stroke="#a6002f" stroke-width="1.0" fill="none" stroke-opacity="0.85"/>
<path d="M467.20,122.30 L467.20,136.30 M464.60,122.30 L469.80,122.30 M464.60,136.30 L469.80,136.30" stroke="#a6002f" stroke-width="1.0" fill="none" stroke-opacity="0.85"/>
<path d="M478.20,119.70 L478.20,132.90 M475.60,119.70 L480.80,119.70 M475.60,132.90 L480.80,132.90" stroke="#a6002f" stroke-width="1.0" fill="none" stroke-opacity="0.85"/>
<path d="M489.20,115.20 L489.20,128.80 M486.60,115.20 L491.80,115.20 M486.60,128.80 L491.80,128.80" stroke="#a6002f" stroke-width="1.0" fill="none" stroke-opacity="0.85"/>
<path d="M324.20,169.98 L325.59,170.08 L326.97,170.16 L328.36,170.21 L329.75,170.24 L331.13,170.24 L332.52,170.22 L333.91,170.18 L335.29,170.11 L336.68,170.02 L338.07,169.90 L339.45,169.75 L340.84,169.58 L342.23,169.38 L343.61,169.16 L345.00,168.91 L346.38,168.63 L347.77,168.34 L349.16,168.08 L350.54,167.90 L351.93,167.87 L353.32,168.03 L354.70,168.44 L356.09,169.15 L357.48,170.22 L358.86,171.64 L360.25,173.33 L361.64,175.17 L363.02,177.06 L364.41,178.88 L365.80,180.52 L367.18,181.87 L368.57,182.82 L369.96,183.32 L371.34,183.45 L372.73,183.29 L374.12,182.92 L375.50,182.43 L376.89,181.90 L378.28,181.41 L379.66,181.05 L381.05,180.85 L382.44,180.76 L383.82,180.72 L385.21,180.67 L386.59,180.55 L387.98,180.31 L389.37,179.89 L390.75,179.23 L392.14,178.31 L393.53,177.17 L394.91,175.86 L396.30,174.40 L397.69,172.84 L399.07,171.22 L400.46,169.58 L401.85,167.96 L403.23,166.36 L404.62,164.75 L406.01,163.09 L407.39,161.35 L408.78,159.50 L410.17,157.49 L411.55,155.30 L412.94,152.90 L414.33,150.30 L415.71,147.59 L417.10,144.85 L418.49,142.15 L419.87,139.57 L421.26,137.20 L422.65,135.11 L424.03,133.38 L425.42,132.02 L426.81,130.97 L428.19,130.20 L429.58,129.66 L430.96,129.30 L432.35,129.07 L433.74,128.93 L435.12,128.84 L436.51,128.77 L437.90,128.72 L439.28,128.70 L440.67,128.69 L442.06,128.70 L443.44,128.72 L444.83,128.75 L446.22,128.79 L447.60,128.83 L448.99,128.88 L450.38,128.93 L451.76,128.98 L453.15,129.03 L454.54,129.06 L455.92,129.09 L457.31,129.11 L458.70,129.12 L460.08,129.11 L461.47,129.08 L462.86,129.03 L464.24,128.96 L465.63,128.87 L467.02,128.76 L468.40,128.61 L469.79,128.44 L471.17,128.24 L472.56,128.01 L473.95,127.74 L475.33,127.43 L476.72,127.08 L478.11,126.70 L479.49,126.27 L480.88,125.79 L482.27,125.28 L483.65,124.71 L485.04,124.09 L486.43,123.42 L487.81,122.69 L489.20,121.91" stroke="#a6002f" stroke-width="1.7" fill="none" stroke-linejoin="round"/>
<circle cx="324.20" cy="170.00" r="2.8" fill="#a6002f"/>
<circle cx="335.20" cy="170.00" r="2.8" fill="#a6002f"/>
<circle cx="346.20" cy="169.00" r="2.8" fill="#a6002f"/>
<circle cx="357.20" cy="169.40" r="2.8" fill="#a6002f"/>
<circle cx="368.20" cy="183.30" r="2.8" fill="#a6002f"/>
<circle cx="379.20" cy="180.50" r="2.8" fill="#a6002f"/>
<circle cx="390.20" cy="188.40" r="2.8" fill="#a6002f"/>
<circle cx="401.20" cy="167.70" r="2.8" fill="#a6002f"/>
<circle cx="412.20" cy="154.70" r="2.8" fill="#a6002f"/>
<circle cx="423.20" cy="133.90" r="2.8" fill="#a6002f"/>
<circle cx="434.20" cy="129.30" r="2.8" fill="#a6002f"/>
<circle cx="445.20" cy="128.60" r="2.8" fill="#a6002f"/>
<circle cx="456.20" cy="128.80" r="2.8" fill="#a6002f"/>
<circle cx="467.20" cy="129.30" r="2.8" fill="#a6002f"/>
<circle cx="478.20" cy="126.30" r="2.8" fill="#a6002f"/>
<circle cx="489.20" cy="122.00" r="2.8" fill="#a6002f"/>
<path d="M324.20,166.00 L324.20,174.00 M321.60,166.00 L326.80,166.00 M321.60,174.00 L326.80,174.00" stroke="#47246c" stroke-width="1.0" fill="none" stroke-opacity="0.85"/>
<path d="M335.20,166.50 L335.20,172.50 M332.60,166.50 L337.80,166.50 M332.60,172.50 L337.80,172.50" stroke="#47246c" stroke-width="1.0" fill="none" stroke-opacity="0.85"/>
<path d="M346.20,164.80 L346.20,170.80 M343.60,164.80 L348.80,164.80 M343.60,170.80 L348.80,170.80" stroke="#47246c" stroke-width="1.0" fill="none" stroke-opacity="0.85"/>
<path d="M357.20,165.60 L357.20,171.60 M354.60,165.60 L359.80,165.60 M354.60,171.60 L359.80,171.60" stroke="#47246c" stroke-width="1.0" fill="none" stroke-opacity="0.85"/>
<path d="M368.20,171.70 L368.20,177.70 M365.60,171.70 L370.80,171.70 M365.60,177.70 L370.80,177.70" stroke="#47246c" stroke-width="1.0" fill="none" stroke-opacity="0.85"/>
<path d="M379.20,170.90 L379.20,176.90 M376.60,170.90 L381.80,170.90 M376.60,176.90 L381.80,176.90" stroke="#47246c" stroke-width="1.0" fill="none" stroke-opacity="0.85"/>
<path d="M390.20,164.00 L390.20,172.00 M387.60,164.00 L392.80,164.00 M387.60,172.00 L392.80,172.00" stroke="#47246c" stroke-width="1.0" fill="none" stroke-opacity="0.85"/>
<path d="M401.20,154.00 L401.20,162.00 M398.60,154.00 L403.80,154.00 M398.60,162.00 L403.80,162.00" stroke="#47246c" stroke-width="1.0" fill="none" stroke-opacity="0.85"/>
<path d="M412.20,143.70 L412.20,153.70 M409.60,143.70 L414.80,143.70 M409.60,153.70 L414.80,153.70" stroke="#47246c" stroke-width="1.0" fill="none" stroke-opacity="0.85"/>
<path d="M423.20,138.00 L423.20,152.00 M420.60,138.00 L425.80,138.00 M420.60,152.00 L425.80,152.00" stroke="#47246c" stroke-width="1.0" fill="none" stroke-opacity="0.85"/>
<path d="M434.20,138.00 L434.20,150.00 M431.60,138.00 L436.80,138.00 M431.60,150.00 L436.80,150.00" stroke="#47246c" stroke-width="1.0" fill="none" stroke-opacity="0.85"/>
<path d="M445.20,138.50 L445.20,150.50 M442.60,138.50 L447.80,138.50 M442.60,150.50 L447.80,150.50" stroke="#47246c" stroke-width="1.0" fill="none" stroke-opacity="0.85"/>
<path d="M456.20,139.90 L456.20,151.90 M453.60,139.90 L458.80,139.90 M453.60,151.90 L458.80,151.90" stroke="#47246c" stroke-width="1.0" fill="none" stroke-opacity="0.85"/>
<path d="M467.20,142.20 L467.20,154.20 M464.60,142.20 L469.80,142.20 M464.60,154.20 L469.80,154.20" stroke="#47246c" stroke-width="1.0" fill="none" stroke-opacity="0.85"/>
<path d="M478.20,139.30 L478.20,151.30 M475.60,139.30 L480.80,139.30 M475.60,151.30 L480.80,151.30" stroke="#47246c" stroke-width="1.0" fill="none" stroke-opacity="0.85"/>
<path d="M489.20,139.90 L489.20,151.90 M486.60,139.90 L491.80,139.90 M486.60,151.90 L491.80,151.90" stroke="#47246c" stroke-width="1.0" fill="none" stroke-opacity="0.85"/>
<path d="M324.20,170.15 L325.59,170.35 L326.97,170.42 L328.36,170.39 L329.75,170.28 L331.13,170.08 L332.52,169.83 L333.91,169.53 L335.29,169.20 L336.68,168.85 L338.07,168.50 L339.45,168.16 L340.84,167.85 L342.23,167.58 L343.61,167.37 L345.00,167.23 L346.38,167.18 L347.77,167.22 L349.16,167.35 L350.54,167.58 L351.93,167.89 L353.32,168.29 L354.70,168.77 L356.09,169.32 L357.48,169.95 L358.86,170.64 L360.25,171.37 L361.64,172.11 L363.02,172.83 L364.41,173.51 L365.80,174.12 L367.18,174.63 L368.57,175.02 L369.96,175.26 L371.34,175.37 L372.73,175.35 L374.12,175.21 L375.50,174.95 L376.89,174.59 L378.28,174.12 L379.66,173.56 L381.05,172.90 L382.44,172.17 L383.82,171.36 L385.21,170.48 L386.59,169.55 L387.98,168.56 L389.37,167.52 L390.75,166.44 L392.14,165.32 L393.53,164.18 L394.91,163.02 L396.30,161.84 L397.69,160.66 L399.07,159.48 L400.46,158.30 L401.85,157.14 L403.23,156.00 L404.62,154.89 L406.01,153.81 L407.39,152.77 L408.78,151.78 L410.17,150.84 L411.55,149.97 L412.94,149.16 L414.33,148.42 L415.71,147.75 L417.10,147.15 L418.49,146.60 L419.87,146.12 L421.26,145.69 L422.65,145.32 L424.03,145.00 L425.42,144.73 L426.81,144.50 L428.19,144.32 L429.58,144.18 L430.96,144.08 L432.35,144.02 L433.74,143.99 L435.12,143.99 L436.51,144.02 L437.90,144.07 L439.28,144.15 L440.67,144.25 L442.06,144.37 L443.44,144.50 L444.83,144.65 L446.22,144.80 L447.60,144.97 L448.99,145.14 L450.38,145.31 L451.76,145.48 L453.15,145.65 L454.54,145.82 L455.92,145.97 L457.31,146.12 L458.70,146.26 L460.08,146.38 L461.47,146.49 L462.86,146.59 L464.24,146.67 L465.63,146.74 L467.02,146.80 L468.40,146.83 L469.79,146.85 L471.17,146.86 L472.56,146.84 L473.95,146.81 L475.33,146.76 L476.72,146.69 L478.11,146.59 L479.49,146.48 L480.88,146.35 L482.27,146.21 L483.65,146.07 L485.04,145.92 L486.43,145.79 L487.81,145.67 L489.20,145.57" stroke="#47246c" stroke-width="1.7" fill="none" stroke-linejoin="round"/>
<polygon points="324.20,166.80 327.30,172.20 321.10,172.20" fill="#47246c"/>
<polygon points="335.20,166.30 338.30,171.70 332.10,171.70" fill="#47246c"/>
<polygon points="346.20,164.60 349.30,170.00 343.10,170.00" fill="#47246c"/>
<polygon points="357.20,165.40 360.30,170.80 354.10,170.80" fill="#47246c"/>
<polygon points="368.20,171.50 371.30,176.90 365.10,176.90" fill="#47246c"/>
<polygon points="379.20,170.70 382.30,176.10 376.10,176.10" fill="#47246c"/>
<polygon points="390.20,164.80 393.30,170.20 387.10,170.20" fill="#47246c"/>
<polygon points="401.20,154.80 404.30,160.20 398.10,160.20" fill="#47246c"/>
<polygon points="412.20,145.50 415.30,150.90 409.10,150.90" fill="#47246c"/>
<polygon points="423.20,141.80 426.30,147.20 420.10,147.20" fill="#47246c"/>
<polygon points="434.20,140.80 437.30,146.20 431.10,146.20" fill="#47246c"/>
<polygon points="445.20,141.30 448.30,146.70 442.10,146.70" fill="#47246c"/>
<polygon points="456.20,142.70 459.30,148.10 453.10,148.10" fill="#47246c"/>
<polygon points="467.20,145.00 470.30,150.40 464.10,150.40" fill="#47246c"/>
<polygon points="478.20,142.10 481.30,147.50 475.10,147.50" fill="#47246c"/>
<polygon points="489.20,142.70 492.30,148.10 486.10,148.10" fill="#47246c"/>
<circle cx="485.6" cy="107.8" r="0.95" fill="#222"/>
<circle cx="475.3" cy="133.8" r="0.95" fill="#222"/>
<circle cx="485.9" cy="133.8" r="0.95" fill="#222"/>
<text x="466.7" y="164.0" font-size="8.6" fill="#333" text-anchor="middle" stroke="#333" stroke-width="0.35" >†</text>
<text x="475.9" y="164.0" font-size="8.6" fill="#333" text-anchor="middle" stroke="#333" stroke-width="0.35" >†</text>
<text x="486.5" y="164.0" font-size="8.6" fill="#333" text-anchor="middle" stroke="#333" stroke-width="0.35" >†</text>
<path d="M373.4,184.3 L375.7,184.5 M376.3,185.2 L378.6,185.6 M382.2,180.4 Q385.6,181.2 384.6,184.2 Q383.6,186.8 381.6,186.2" stroke="#333" stroke-width="0.9" fill="none"/>
<rect x="0.6" y="0.6" width="518.8" height="242.8" fill="none" stroke="#000" stroke-width="1.3"/>
</svg>
</body></html>
